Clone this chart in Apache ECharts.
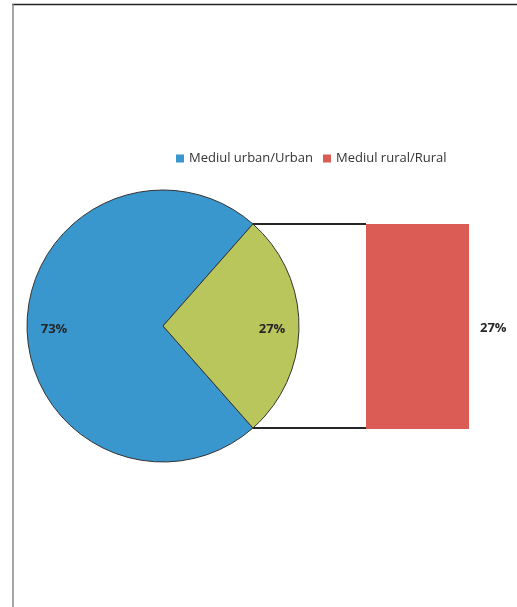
<!DOCTYPE html>
<html>
<head>
<meta charset="utf-8">
<script src="https://cdn.jsdelivr.net/npm/echarts@6/dist/echarts.min.js"></script>
<style>
html,body{margin:0;padding:0;background:#fff;}
#c{width:517px;height:607px;}
</style>
</head>
<body>
<div id="c"></div>
<script>
// Data
var pieNames = ['Mediul urban/Urban', 'Rest'];
var pieValues = [73, 27];
var barNames = ['Mediul rural/Rural'];
var barValues = [27];
var legendNames = ['Mediul urban/Urban', 'Mediul rural/Rural'];

var blue = '#3a97cd', green = '#b9c65c', red = '#db5b55';
var cx = 163, cy = 326, R = 136;
var fontFam = '"Open Sans", "Noto Sans", sans-serif';

var chart = echarts.init(document.getElementById('c'));

var total = pieValues[0] + pieValues[1];
var half = pieValues[1] / total * Math.PI;
var ex = cx + R * Math.cos(half);
var eyTop = cy - R * Math.sin(half);
var eyBot = cy + R * Math.sin(half);
var barLeft = 366, barTop = 224, barH = 205, barW = 103;
var startDeg = -half * 180 / Math.PI;

var labelStyle = {
  fontFamily: fontFam,
  fontWeight: 'bold',
  fontSize: 13,
  color: '#262626'
};

function pieData(withColor) {
  return [
    { name: pieNames[0], value: pieValues[0], itemStyle: { color: withColor ? blue : 'transparent' } },
    { name: pieNames[1], value: pieValues[1], itemStyle: { color: withColor ? green : 'transparent' } }
  ];
}

chart.setOption({
  animation: false,
  legend: {
    data: legendNames,
    top: 147,
    left: 171,
    itemWidth: 8,
    itemHeight: 8,
    itemGap: 10,
    icon: 'rect',
    itemStyle: { borderWidth: 0 },
    textStyle: { fontFamily: fontFam, fontSize: 13, color: '#333' }
  },
  grid: { left: barLeft, top: barTop, width: barW, height: barH },
  xAxis: { type: 'category', data: barNames, show: false },
  yAxis: { type: 'value', min: 0, max: 27, show: false },
  series: [
    {
      type: 'pie',
      center: [cx, cy],
      radius: [0, R],
      startAngle: startDeg,
      clockwise: true,
      label: { show: false },
      labelLine: { show: false },
      itemStyle: { borderColor: '#333', borderWidth: 1 },
      emphasis: { disabled: true },
      data: pieData(true)
    },
    {
      type: 'pie',
      name: 'labels',
      center: [cx, cy],
      radius: [76, R],
      startAngle: startDeg,
      clockwise: true,
      silent: true,
      legendHoverLink: false,
      itemStyle: { borderWidth: 0 },
      label: Object.assign({
        show: true,
        position: 'inside',
        offset: [0, 3],
        formatter: function (p) { return p.value + '%'; }
      }, labelStyle),
      labelLine: { show: false },
      emphasis: { disabled: true },
      data: pieData(false)
    },
    {
      type: 'bar',
      name: barNames[0],
      barWidth: '100%',
      itemStyle: { color: red },
      label: Object.assign({
        show: true,
        position: 'right',
        distance: 11,
        offset: [0, 2],
        formatter: '{c}%'
      }, labelStyle),
      data: barValues
    }
  ],
  color: [blue, red],
  graphic: [
    { type: 'line', shape: { x1: 12, y1: 4.5, x2: 517, y2: 4.5 }, style: { stroke: '#222', lineWidth: 1.5 } },
    { type: 'line', shape: { x1: 13, y1: 4, x2: 13, y2: 607 }, style: { stroke: '#888', lineWidth: 1.5 } },
    { type: 'line', shape: { x1: ex, y1: eyTop, x2: barLeft, y2: eyTop }, style: { stroke: '#262626', lineWidth: 2 } },
    { type: 'line', shape: { x1: ex, y1: eyBot, x2: barLeft, y2: eyBot }, style: { stroke: '#262626', lineWidth: 2 } }
  ]
});
</script>
</body>
</html>
